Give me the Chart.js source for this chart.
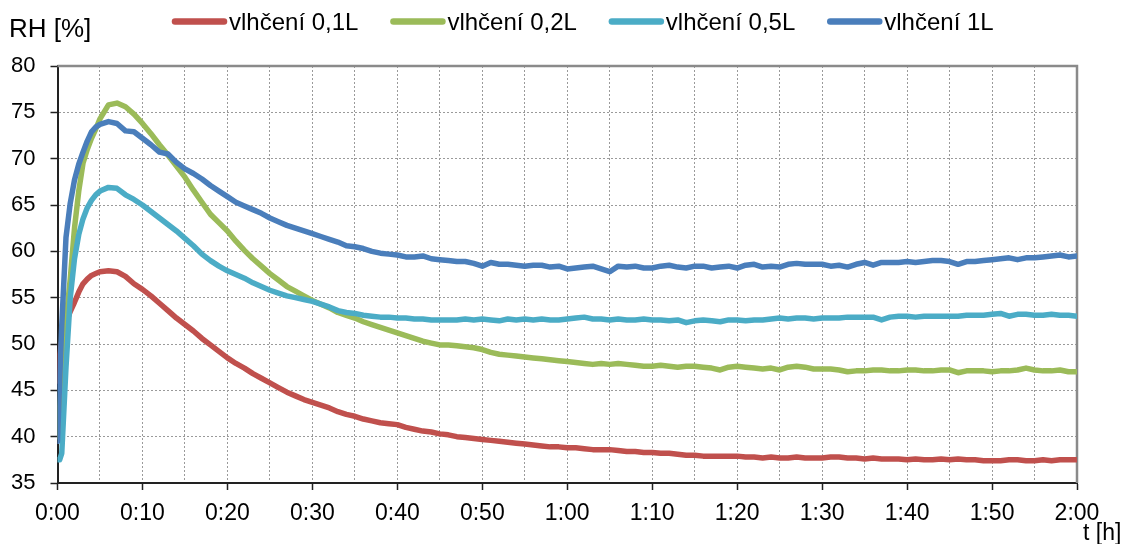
<!DOCTYPE html>
<html>
<head>
<meta charset="utf-8">
<title>RH [%]</title>
<script src="https://cdn.jsdelivr.net/npm/chart.js@4/dist/chart.umd.min.js"></script>
<style>
  html, body { margin: 0; padding: 0; background: #ffffff; }
  #wrap { width: 1129px; height: 544px; }
</style>
</head>
<body>
<div id="wrap"><canvas id="c" width="1129" height="544"></canvas></div>
<script>
// Time of each sample, in minutes from the start of the run
const minutes = [0, 0.25, 0.5, 1, 1.5, 2, 2.5, 3, 3.5, 4, 4.5,
  5, 6, 7, 8, 9, 10, 11, 12, 13, 14,
  15, 16, 17, 18, 19, 20, 21, 22, 23, 24,
  25, 26, 27, 28, 29, 30, 31, 32, 33, 34,
  35, 36, 37, 38, 39, 40, 41, 42, 43, 44,
  45, 46, 47, 48, 49, 50, 51, 52, 53, 54,
  55, 56, 57, 58, 59, 60, 61, 62, 63, 64,
  65, 66, 67, 68, 69, 70, 71, 72, 73, 74,
  75, 76, 77, 78, 79, 80, 81, 82, 83, 84,
  85, 86, 87, 88, 89, 90, 91, 92, 93, 94,
  95, 96, 97, 98, 99, 100, 101, 102, 103, 104,
  105, 106, 107, 108, 109, 110, 111, 112, 113, 114,
  115, 116, 117, 118, 119, 120];

// Relative humidity [%] for each amount of water
const rh01 = [46.0, 48.8, 50.3, 52.3, 53.5, 54.5, 55.6, 56.5, 57.0, 57.4, 57.6,
  57.8, 57.9, 57.8, 57.3, 56.5, 55.9, 55.2, 54.4, 53.6, 52.8,
  52.1, 51.4, 50.6, 49.9, 49.2, 48.5, 47.9, 47.4, 46.8, 46.3,
  45.8, 45.3, 44.8, 44.4, 44.0, 43.7, 43.4, 43.1, 42.7, 42.4,
  42.2, 41.9, 41.7, 41.5, 41.4, 41.3, 41.0, 40.8, 40.6, 40.5,
  40.3, 40.2, 40.0, 39.9, 39.8, 39.7, 39.6, 39.5, 39.4, 39.3,
  39.2, 39.1, 39.0, 38.9, 38.9, 38.8, 38.8, 38.7, 38.6, 38.6,
  38.6, 38.5, 38.4, 38.4, 38.3, 38.3, 38.2, 38.2, 38.1, 38.0,
  38.0, 37.9, 37.9, 37.9, 37.9, 37.9, 37.8, 37.8, 37.7, 37.8,
  37.7, 37.7, 37.8, 37.7, 37.7, 37.7, 37.8, 37.8, 37.7, 37.7,
  37.6, 37.7, 37.6, 37.6, 37.6, 37.5, 37.6, 37.5, 37.5, 37.6,
  37.5, 37.6, 37.5, 37.5, 37.4, 37.4, 37.4, 37.5, 37.5, 37.4,
  37.4, 37.5, 37.4, 37.5, 37.5, 37.5];

const rh02 = [40.0, 43.0, 47.0, 52.5, 57.0, 62.5, 66.5, 69.5, 71.0, 72.2, 73.2,
  74.3, 75.8, 76.0, 75.6, 74.8, 73.8, 72.7, 71.5, 70.4, 69.2,
  68.0, 66.6, 65.3, 64.0, 63.1, 62.2, 61.1, 60.1, 59.2, 58.4,
  57.6, 56.9, 56.2, 55.7, 55.2, 54.7, 54.3, 53.9, 53.4, 53.1,
  52.8, 52.4, 52.1, 51.8, 51.5, 51.2, 50.9, 50.6, 50.3, 50.1,
  49.9, 49.9, 49.8, 49.7, 49.6, 49.4, 49.1, 48.9, 48.8, 48.7,
  48.6, 48.5, 48.4, 48.3, 48.2, 48.1, 48.0, 47.9, 47.8, 47.9,
  47.8, 47.9, 47.8, 47.7, 47.6, 47.6, 47.7, 47.6, 47.5, 47.6,
  47.6, 47.5, 47.4, 47.2, 47.5, 47.6, 47.5, 47.4, 47.3, 47.4,
  47.2, 47.5, 47.6, 47.5, 47.3, 47.3, 47.3, 47.2, 47.0, 47.1,
  47.1, 47.2, 47.2, 47.1, 47.1, 47.2, 47.2, 47.1, 47.1, 47.2,
  47.2, 46.9, 47.1, 47.1, 47.1, 47.0, 47.1, 47.1, 47.2, 47.4,
  47.2, 47.1, 47.1, 47.2, 47.0, 47.0];

const rh05 = [37.5, 37.5, 38.2, 47.5, 55.0, 59.2, 61.8, 63.5, 64.7, 65.5, 66.1,
  66.5, 66.9, 66.8, 66.1, 65.6, 65.0, 64.3, 63.6, 62.9, 62.2,
  61.4, 60.6, 59.7, 59.0, 58.4, 57.9, 57.5, 57.1, 56.6, 56.2,
  55.8, 55.5, 55.2, 55.0, 54.8, 54.6, 54.3, 54.0, 53.6, 53.4,
  53.3, 53.1, 53.0, 52.9, 52.9, 52.8, 52.8, 52.7, 52.7, 52.6,
  52.6, 52.6, 52.6, 52.7, 52.6, 52.7, 52.6, 52.5, 52.7, 52.6,
  52.7, 52.6, 52.7, 52.6, 52.6, 52.7, 52.8, 52.9, 52.7, 52.7,
  52.6, 52.7, 52.6, 52.6, 52.7, 52.6, 52.6, 52.5, 52.6, 52.3,
  52.5, 52.6, 52.5, 52.4, 52.6, 52.6, 52.5, 52.6, 52.6, 52.7,
  52.8, 52.7, 52.8, 52.8, 52.7, 52.8, 52.8, 52.8, 52.9, 52.9,
  52.9, 52.9, 52.6, 52.9, 53.0, 53.0, 52.9, 53.0, 53.0, 53.0,
  53.0, 53.0, 53.1, 53.1, 53.1, 53.2, 53.3, 53.0, 53.2, 53.2,
  53.1, 53.1, 53.2, 53.1, 53.1, 53.0];

const rh1 = [39.5, 46.0, 52.0, 61.5, 65.2, 67.7, 69.4, 70.7, 71.9, 72.9, 73.4,
  73.7, 74.0, 73.8, 73.0, 72.9, 72.2, 71.5, 70.7, 70.5, 69.6,
  68.9, 68.4, 67.8, 67.1, 66.5, 65.9, 65.3, 64.9, 64.5, 64.1,
  63.6, 63.2, 62.8, 62.5, 62.2, 61.9, 61.6, 61.3, 61.0, 60.6,
  60.5, 60.3, 60.0, 59.8, 59.7, 59.6, 59.4, 59.4, 59.5, 59.2,
  59.1, 59.0, 58.9, 58.9, 58.7, 58.4, 58.8, 58.6, 58.6, 58.5,
  58.4, 58.5, 58.5, 58.3, 58.4, 58.1, 58.2, 58.3, 58.4, 58.1,
  57.8, 58.4, 58.3, 58.4, 58.2, 58.2, 58.4, 58.5, 58.3, 58.2,
  58.4, 58.4, 58.2, 58.3, 58.4, 58.2, 58.5, 58.6, 58.3, 58.4,
  58.3, 58.6, 58.7, 58.6, 58.6, 58.6, 58.4, 58.5, 58.3, 58.6,
  58.8, 58.5, 58.8, 58.8, 58.8, 58.9, 58.8, 58.9, 59.0, 59.0,
  58.9, 58.6, 58.9, 58.9, 59.0, 59.1, 59.2, 59.3, 59.1, 59.3,
  59.3, 59.4, 59.5, 59.6, 59.4, 59.5];

const seriesNames = ['vlhčení 0,1L', 'vlhčení 0,2L', 'vlhčení 0,5L', 'vlhčení 1L'];
const seriesValues = [rh01, rh02, rh05, rh1];
const seriesColors = ['#C0504D', '#9BBB59', '#4BACC6', '#4A7EBB'];

const yTicks = [35, 40, 45, 50, 55, 60, 65, 70, 75, 80];
const yAxisTitle = 'RH [%]';
const xAxisTitle = 't [h]';

const FONT = '"Liberation Sans", Arial, Helvetica, sans-serif';

// minutes -> "h:mm"
function hmm(v) {
  const h = Math.floor(v / 60);
  const m = Math.round(v - h * 60);
  return h + ':' + (m < 10 ? '0' : '') + m;
}

const datasets = seriesValues.map((vals, i) => ({
  label: seriesNames[i],
  data: minutes.map((m, k) => ({ x: m, y: vals[k] })),
  borderColor: seriesColors[i],
  backgroundColor: seriesColors[i],
  borderWidth: 5.5,
  pointRadius: 0,
  tension: 0,
  fill: false,
  borderJoinStyle: 'round',
  borderCapStyle: 'round',
  order: seriesValues.length - i   // later series are painted on top
}));

// Plot frame, legend row and axis captions
const decorations = {
  id: 'decorations',
  beforeDatasetsDraw(chart) {
    const { ctx, chartArea: a } = chart;
    ctx.save();
    ctx.strokeStyle = '#8a8a8a';
    ctx.lineWidth = 2.5;
    ctx.beginPath();
    ctx.moveTo(a.left, a.top);
    ctx.lineTo(a.right, a.top);
    ctx.lineTo(a.right, a.bottom);
    ctx.stroke();
    ctx.restore();
  },
  afterDraw(chart) {
    const { ctx } = chart;
    ctx.save();
    ctx.fillStyle = '#000';
    ctx.textBaseline = 'alphabetic';
    ctx.textAlign = 'left';

    ctx.font = '26px ' + FONT;
    ctx.fillText(yAxisTitle, 9, 37);

    ctx.font = '23px ' + FONT;
    ctx.fillText(xAxisTitle, 1083, 540);

    // legend
    ctx.font = '24px ' + FONT;
    let x = 172;
    const lineY = 21.5, lineLen = 52, textGap = 5, itemGap = 32;
    chart.data.datasets.forEach(ds => {
      ctx.strokeStyle = ds.borderColor;
      ctx.lineWidth = 6.5;
      ctx.lineCap = 'round';
      ctx.beginPath();
      ctx.moveTo(x + 3, lineY);
      ctx.lineTo(x + lineLen, lineY);
      ctx.stroke();
      const tx = x + lineLen + textGap;
      ctx.fillText(ds.label, tx, 30);
      x = tx + ctx.measureText(ds.label).width + itemGap;
    });
    ctx.restore();
  }
};

const gridGray = '#9a9a9a';

new Chart(document.getElementById('c'), {
  type: 'line',
  data: { datasets },
  plugins: [decorations],
  options: {
    responsive: false,
    animation: false,
    events: [],
    layout: { padding: { left: 5, right: 52, top: 66, bottom: 0 } },
    plugins: {
      legend: { display: false },
      tooltip: { enabled: false },
      title: { display: false }
    },
    scales: {
      x: {
        type: 'linear',
        min: 0,
        max: 120,
        afterFit(scale) { scale.height = 61; },
        ticks: {
          stepSize: 5,
          maxTicksLimit: 100,
          autoSkip: false,
          maxRotation: 0,
          padding: 10,
          color: '#000',
          font: { family: FONT, size: 23 },
          callback: v => (v % 10 === 0 ? hmm(v) : '')
        },
        grid: {
          color: gridGray,
          lineWidth: 1,
          drawTicks: true,
          tickLength: 7,
          tickWidth: 1.5,
          tickBorderDash: [],
          tickColor: c => (c.tick && c.tick.value % 10 === 0 ? '#222' : 'rgba(0,0,0,0)')
        },
        border: { display: true, color: '#222', width: 2, dash: [2, 2] }
      },
      y: {
        type: 'linear',
        min: yTicks[0],
        max: yTicks[yTicks.length - 1],
        afterFit(scale) { scale.width = 52.5; },
        afterBuildTicks(scale) { scale.ticks = yTicks.map(v => ({ value: v })); },
        ticks: {
          padding: 15,
          color: '#000',
          font: { family: FONT, size: 22 },
          callback: v => String(v)
        },
        grid: {
          color: gridGray,
          lineWidth: 1,
          drawTicks: true,
          tickLength: 7,
          tickWidth: 1.5,
          tickBorderDash: [],
          tickColor: '#222'
        },
        border: { display: true, color: '#222', width: 2, dash: [2, 2] }
      }
    }
  }
});
</script>
</body>
</html>
